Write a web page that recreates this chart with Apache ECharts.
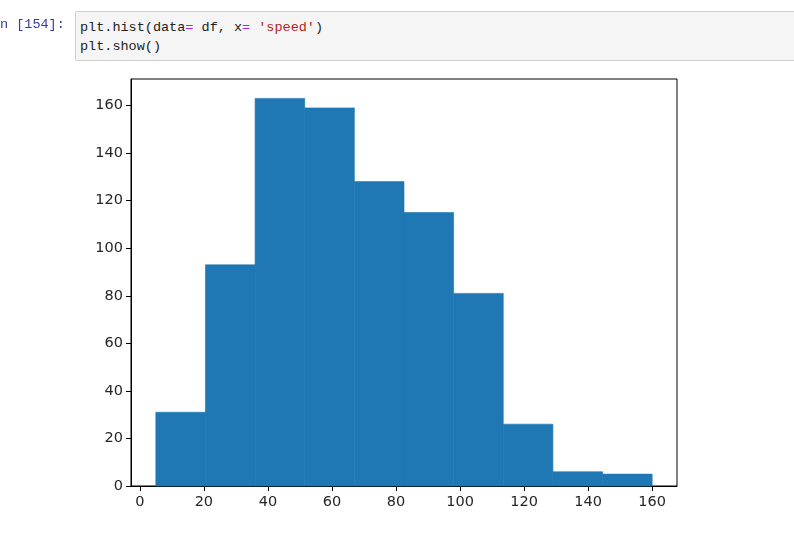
<!DOCTYPE html>
<html>
<head>
<meta charset="utf-8">
<script src="https://cdn.jsdelivr.net/npm/echarts@6/dist/echarts.min.js"></script>
<style>
  html, body { margin: 0; padding: 0; background: #fff; overflow: hidden; }
  #chart { position: absolute; left: 0; top: 0; width: 794px; height: 534px; }
  .prompt {
    position: absolute; left: 0; top: 17px;
    font-family: "Liberation Mono", monospace; font-size: 13.5px; color: #303F9F;
  }
  .cell {
    position: absolute; left: 75px; top: 11px; width: 730px; height: 50px;
    background: #f5f5f5; border: 1px solid #cfcfcf; border-radius: 2px;
    font-family: "Liberation Mono", monospace; font-size: 13.5px; color: #222;
    padding: 6px 0 0 4px; box-sizing: border-box; line-height: 19px; white-space: pre;
  }
  .op { color: #AA22FF; }
  .str { color: #BA2121; }
</style>
</head>
<body>
<div id="chart"></div>
<div class="prompt">n [154]:</div>
<div class="cell">plt.hist(data<span class="op">=</span> df, x<span class="op">=</span> <span class="str">'speed'</span>)
plt.show()</div>
<script>
// 히스토그램 구간 경계 (speed)
const binEdges = [5, 20.5, 36, 51.5, 67, 82.5, 98, 113.5, 129, 144.5, 160]
// 구간별 개수
const counts = [31, 93, 163, 159, 128, 115, 81, 26, 6, 5]
// 눈금
const xTicks = [0, 20, 40, 60, 80, 100, 120, 140, 160]
const yTicks = [0, 20, 40, 60, 80, 100, 120, 140, 160]

const bins = counts.map((c, i) => [binEdges[i], binEdges[i + 1], c])

// matplotlib 기본 여백 5%
const span = binEdges[binEdges.length - 1] - binEdges[0]
const xMin = binEdges[0] - span * 0.05
const xMax = binEdges[binEdges.length - 1] + span * 0.05
const yMax = Math.max(...counts) * 1.05

const labelStyle = {
  fontFamily: 'DejaVu Sans',
  fontSize: 14.5,
  color: '#262626',
}

const chart = echarts.init(document.getElementById('chart'))
chart.setOption({
  animation: false,
  grid: {
    left: 131,
    top: 79,
    width: 546,
    height: 407,
    show: true,
    borderColor: '#000',
    borderWidth: 1,
    backgroundColor: '#fff',
  },
  xAxis: {
    type: 'value',
    min: xMin,
    max: xMax,
    splitLine: { show: false },
    axisLine: { show: true, onZero: false, lineStyle: { color: '#000', width: 1 } },
    axisTick: { show: true, length: 5, customValues: xTicks, lineStyle: { color: '#000' } },
    axisLabel: Object.assign({ margin: 9, customValues: xTicks }, labelStyle),
  },
  yAxis: {
    type: 'value',
    min: 0,
    max: yMax,
    splitLine: { show: false },
    axisLine: { show: true, onZero: false, lineStyle: { color: '#000', width: 1 } },
    axisTick: { show: true, length: 5, customValues: yTicks, lineStyle: { color: '#000' } },
    axisLabel: Object.assign({ margin: 8, customValues: yTicks }, labelStyle),
  },
  series: [
    {
      type: 'custom',
      data: bins,
      encode: { x: [0, 1], y: 2 },
      renderItem(params, api) {
        const p0 = api.coord([api.value(0), api.value(2)])
        const p1 = api.coord([api.value(1), 0])
        return {
          type: 'rect',
          shape: { x: p0[0], y: p0[1], width: p1[0] - p0[0], height: p1[1] - p0[1] },
          style: { fill: '#1f77b4', stroke: '#1f77b4', lineWidth: 0.6 },
        }
      },
    },
  ],
})
</script>
</body>
</html>
